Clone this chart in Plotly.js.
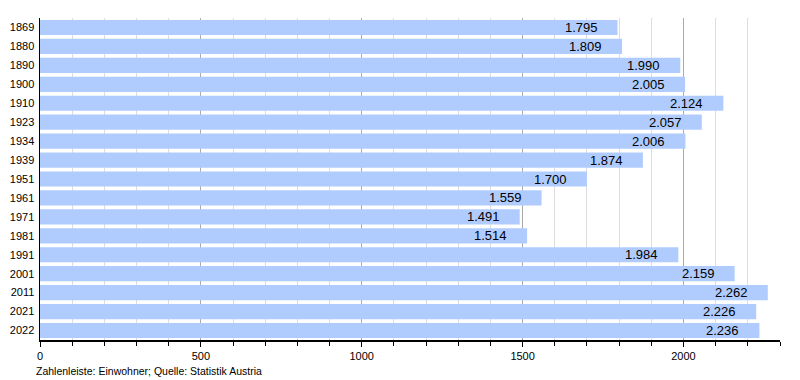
<!DOCTYPE html>
<html><head><meta charset="utf-8">
<script src="https://cdn.plot.ly/plotly-3.0.1.min.js"></script>
<style>body{margin:0;background:#fff}#c{width:800px;height:380px}</style>
</head><body><div id="c"></div>
<script>
const years = ["1869","1880","1890","1900","1910","1923","1934","1939","1951","1961","1971","1981","1991","2001","2011","2021","2022"];
const population = [1795,1809,1990,2005,2124,2057,2006,1874,1700,1559,1491,1514,1984,2159,2262,2226,2236];
const xTickVals = [0,500,1000,1500,2000];
const footnote = "Zahlenleiste: Einwohner; Quelle: Statistik Austria";

function fmt(v){ return String(v).replace(/\B(?=(\d{3})+(?!\d))/g, "."); }

const trace = {
  type: "bar", orientation: "h",
  x: population, y: years,
  marker: {color: "#b0ccff", line: {width: 0}},
  hoverinfo: "none"
};
const annotations = years.map((y,i)=>({
  x: population[i], y: i, xref: "x", yref: "y",
  text: fmt(population[i]), showarrow: false,
  xanchor: "right", xshift: -18, yshift: 0,
  font: {family: "Liberation Sans, Arial, sans-serif", size: 13, color: "#000"}
}));
annotations.push({
  xref: "paper", yref: "paper", x: -0.008, y: -0.072, xanchor: "left", yanchor: "top",
  text: footnote, showarrow: false,
  font: {family: "Liberation Sans, Arial, sans-serif", size: 10.5, color: "#000"}
});

const layout = {
  width: 800, height: 380,
  margin: {l: 40, r: 20, t: 18, b: 40},
  paper_bgcolor: "#fff", plot_bgcolor: "#fff",
  showlegend: false, bargap: 0.2,
  font: {family: "Liberation Sans, Arial, sans-serif", size: 11, color: "#000"},
  xaxis: {
    range: [0, 2300], tickvals: xTickVals, ticktext: xTickVals.map(String),
    showgrid: true, gridcolor: "#aaaaaa", gridwidth: 1,
    showline: true, linecolor: "#000", linewidth: 1.5,
    ticks: "outside", ticklen: 5, tickcolor: "#000",
    minor: {dtick: 100, showgrid: true, gridcolor: "#dddddd", ticks: "outside", ticklen: 4, tickcolor: "#000"},
    zeroline: false, fixedrange: true,
    tickfont: {size: 11}
  },
  yaxis: {
    type: "category", autorange: "reversed",
    showline: true, linecolor: "#000", linewidth: 1.5,
    ticks: "", showgrid: false, zeroline: false,
    tickfont: {size: 11}, ticklabelstandoff: 2
  },
  annotations: annotations
};
Plotly.newPlot("c", [trace], layout, {staticPlot: true, displayModeBar: false});
</script></body></html>
